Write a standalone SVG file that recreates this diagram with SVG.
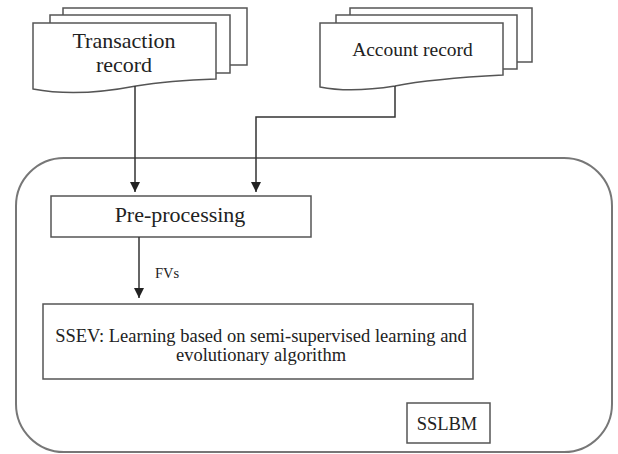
<svg xmlns="http://www.w3.org/2000/svg" width="618" height="454" viewBox="0 0 618 454">
<style>
.doc{fill:#fff;stroke:#555;stroke-width:1.5}
.box{fill:#fff;stroke:#555;stroke-width:1.5}
.outer{fill:none;stroke:#777;stroke-width:2}
.line{fill:none;stroke:#333;stroke-width:1.5}
.t{font-family:'Liberation Serif','DejaVu Serif',serif;font-size:18.5px;fill:#222;text-anchor:middle}
.big{font-size:22px}
.s{font-family:'Liberation Serif','DejaVu Serif',serif;font-size:14.5px;fill:#222}
</style>
<defs>
<marker id="ah" viewBox="0 0 10 10" refX="10" refY="5" markerWidth="10" markerHeight="10" markerUnits="userSpaceOnUse" orient="auto">
<path d="M0,0 L10,5 L0,10 Z" fill="#222"/>
</marker>
</defs>
<rect width="618" height="454" fill="#fff"/>
<g id="sslbm-container">
<rect class="outer" x="16" y="158" width="596" height="294" rx="48" ry="48"/>
</g>
<g id="transaction-record">
<rect class="doc" x="63" y="8" width="184" height="57"/>
<rect class="doc" x="50" y="15" width="180" height="58"/>
<path class="doc" d="M33,23 H216 V79 C185,80 160,82 136,86 C105,92 70,96 33,89 Z"/>
<text class="t big" x="124" y="48">Transaction</text>
<text class="t big" x="124" y="72">record</text>
</g>
<g id="account-record">
<rect class="doc" x="350" y="8" width="182" height="54"/>
<rect class="doc" x="336" y="15" width="181" height="54"/>
<path class="doc" d="M320,23 H503 V75 C465,77 425,80 395,86 C370,90 345,92 320,87 Z"/>
<text class="t" x="412.5" y="56" style="font-size:19.5px">Account record</text>
</g>
<g id="pre-processing">
<rect class="box" x="51" y="196" width="260" height="41"/>
<text class="t big" x="180" y="222">Pre-processing</text>
</g>
<g id="ssev">
<rect class="box" x="43" y="304" width="430" height="75"/>
<text class="t" x="261" y="342">SSEV: Learning based on semi-supervised learning and</text>
<text class="t" x="261" y="361">evolutionary algorithm</text>
</g>
<g id="sslbm-label">
<rect class="box" x="407" y="403" width="83" height="40"/>
<text class="t" x="447" y="430">SSLBM</text>
</g>
<g id="connectors">
<path class="line" d="M135,86 V192" marker-end="url(#ah)"/>
<path class="line" d="M395,86 V117 H256 V192" marker-end="url(#ah)"/>
<path class="line" d="M139,237 V298" marker-end="url(#ah)"/>
<text class="s" x="155" y="278">FVs</text>
</g>
</svg>
